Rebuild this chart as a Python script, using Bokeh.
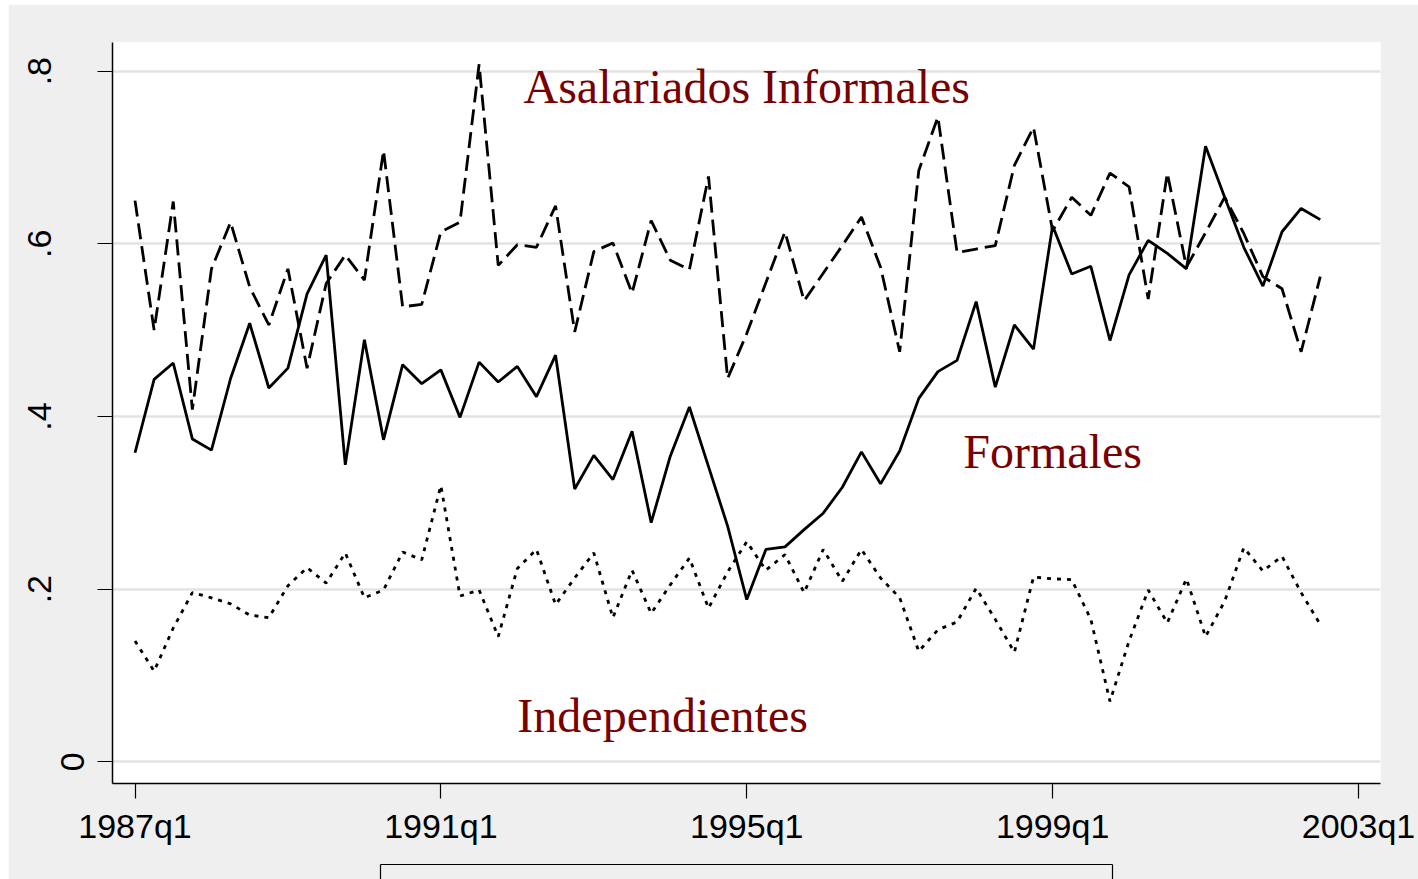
from bokeh.plotting import figure
from bokeh.models import FixedTicker, Range1d, LinearAxis
from bokeh.core.properties import value
from bokeh.embed import file_html
from bokeh.resources import INLINE

# ---------------- data ----------------
start_year = 1987
formales = [0.358, 0.443, 0.462, 0.374, 0.361, 0.444, 0.508, 0.433, 0.456, 0.542,
            0.587, 0.344, 0.489, 0.373, 0.460, 0.438, 0.454, 0.399, 0.463, 0.440,
            0.458, 0.423, 0.471, 0.316, 0.355, 0.327, 0.383, 0.277, 0.354, 0.411,
            0.342, 0.273, 0.188, 0.246, 0.249, 0.269, 0.288, 0.318, 0.359, 0.322,
            0.360, 0.421, 0.452, 0.465, 0.533, 0.434, 0.506, 0.478, 0.621, 0.565,
            0.574, 0.488, 0.564, 0.604, 0.589, 0.571, 0.713, 0.654, 0.596, 0.551,
            0.614, 0.641, 0.628]
asalariados = [0.650, 0.500, 0.649, 0.408, 0.571, 0.625, 0.550, 0.506, 0.571, 0.456,
               0.554, 0.587, 0.558, 0.708, 0.527, 0.530, 0.614, 0.625, 0.808, 0.575,
               0.599, 0.596, 0.644, 0.498, 0.591, 0.601, 0.543, 0.627, 0.581, 0.570,
               0.678, 0.444, 0.496, 0.555, 0.614, 0.534, 0.566, 0.598, 0.631, 0.573,
               0.475, 0.685, 0.747, 0.590, 0.594, 0.598, 0.691, 0.735, 0.615, 0.654,
               0.633, 0.682, 0.666, 0.536, 0.682, 0.573, 0.613, 0.654, 0.612, 0.562,
               0.548, 0.475, 0.562]
independientes = [0.140, 0.105, 0.155, 0.196, 0.190, 0.183, 0.170, 0.167, 0.204, 0.225,
                  0.207, 0.242, 0.190, 0.199, 0.243, 0.234, 0.320, 0.192, 0.199, 0.145,
                  0.224, 0.246, 0.182, 0.213, 0.242, 0.167, 0.222, 0.172, 0.205, 0.236,
                  0.178, 0.220, 0.255, 0.222, 0.240, 0.196, 0.246, 0.209, 0.246, 0.213,
                  0.190, 0.128, 0.153, 0.162, 0.201, 0.165, 0.127, 0.214, 0.212, 0.211,
                  0.165, 0.070, 0.140, 0.199, 0.161, 0.212, 0.145, 0.186, 0.248, 0.221,
                  0.238, 0.196, 0.159]
x_tick_labels = ["1987q1", "1991q1", "1995q1", "1999q1", "2003q1"]
y_ticks = [0, 0.2, 0.4, 0.6, 0.8]
y_tick_labels = ["0", ".2", ".4", ".6", ".8"]
annot_text = ["Asalariados Informales", "Formales", "Independientes"]
annot_x = [32, 48, 27.6]      # quarter index from 1987q1
annot_y = [0.782, 0.359, 0.054]
legend_frame_x = (12.816, 51.13)   # horizontal extent of the (cropped) legend frame


def qindex(label):
    yr, q = label.split("q")
    return (int(yr) - start_year) * 4 + int(q) - 1


quarters = [f"{start_year + i // 4}q{i % 4 + 1}" for i in range(len(formales))]
x = [qindex(q) for q in quarters]

# ---------------- figure ----------------
p = figure(width=1410, height=875, output_backend="svg", toolbar_location=None,
           x_range=Range1d(-1.177, 65.151), y_range=Range1d(-0.0251, 0.8332),
           min_border_left=104, min_border_right=38, min_border_top=38,
           min_border_bottom=95, margin=(4, 0, 0, 8))
p.border_fill_color = "#efefef"
p.background_fill_color = "white"
p.outline_line_color = None


def style_axis(ax):
    ax.axis_line_color = "black"
    ax.axis_line_width = 1.5
    ax.major_tick_out = 15
    ax.major_tick_in = 0
    ax.major_tick_line_color = "black"
    ax.major_tick_line_width = 1.2
    ax.minor_tick_out = 0
    ax.minor_tick_in = 0
    ax.major_label_text_font = "Liberation Sans"
    ax.major_label_text_font_size = "34px"
    ax.major_label_text_color = "black"


xax = p.xaxis[0]
style_axis(xax)
xax.major_label_standoff = 8
xax.ticker = FixedTicker(ticks=[qindex(l) for l in x_tick_labels])
xax.major_label_overrides = {qindex(l): l for l in x_tick_labels}
xax.axis_label = " "
xax.axis_label_text_font_size = "12px"
xax.axis_label_standoff = 0

# legend frame: only its top edge and sides show at the bottom of the window
lax = LinearAxis(bounds=legend_frame_x, ticker=FixedTicker(ticks=list(legend_frame_x)))
lax.axis_line_color = "black"
lax.axis_line_width = 1.2
lax.major_tick_out = 15
lax.major_tick_in = 0
lax.major_tick_line_color = "black"
lax.major_tick_line_width = 1.2
lax.minor_tick_out = 0
lax.minor_tick_in = 0
lax.major_label_overrides = {t: "" for t in legend_frame_x}
lax.major_label_text_font_size = "0px"
lax.major_label_standoff = 0
p.add_layout(lax, "below")

# inner y axis: axis line, all ticks, only the "0" label
yin = p.yaxis[0]
style_axis(yin)
yin.ticker = FixedTicker(ticks=y_ticks)
yin.major_label_overrides = {t: (l if t == 0 else "") for t, l in zip(y_ticks, y_tick_labels)}
yin.major_label_orientation = "vertical"
yin.major_label_standoff = 13

# outer y axis: the remaining labels, set further out as in the reference
yout = LinearAxis(ticker=FixedTicker(ticks=y_ticks[1:]))
style_axis(yout)
yout.axis_line_color = None
yout.major_tick_out = 0
yout.major_tick_line_color = None
yout.major_label_overrides = dict(zip(y_ticks[1:], y_tick_labels[1:]))
yout.major_label_orientation = "vertical"
yout.major_label_standoff = 7
p.add_layout(yout, "left")

p.xgrid.visible = False
p.ygrid.grid_line_color = "#e3e3e3"
p.ygrid.grid_line_width = 2.5

p.line(x, formales, line_color="black", line_width=2.8)
p.line(x, asalariados, line_color="black", line_width=2.8, line_dash="16 7")
p.line(x, independientes, line_color="black", line_width=2.8, line_dash="4 6")

p.text(x=annot_x, y=annot_y, text=annot_text,
       text_font=value("Liberation Serif"), text_font_size="48px",
       text_color="#780000", text_align="center", text_baseline="middle")

open("out.html", "w").write(file_html(p, INLINE))
